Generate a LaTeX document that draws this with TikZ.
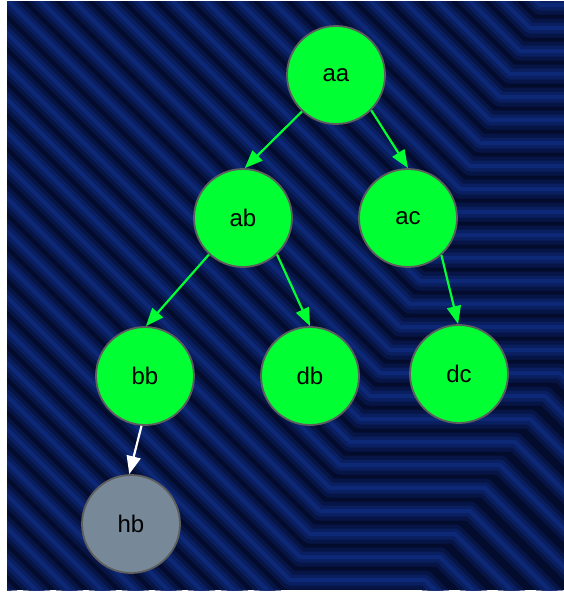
\documentclass[tikz,border=0pt]{standalone}
\usepackage{fontspec}
\newfontfamily\nodefont{Liberation Sans}
\usetikzlibrary{arrows.meta}
\definecolor{bgbase}{HTML}{030C2C}
\definecolor{trwide}{HTML}{0A1E5C}
\definecolor{trhalo}{HTML}{0B2368}
\definecolor{trcore}{HTML}{0E2C82}
\definecolor{nodegreen}{HTML}{00FF33}
\definecolor{nodegrey}{HTML}{778899}
\definecolor{nodeborder}{HTML}{5E5E5E}
\tikzset{
  treenode/.style={circle, draw=nodeborder, line width=1.8pt, fill=nodegreen,
    minimum size=98pt, inner sep=0pt, font=\nodefont\fontsize{24}{28}\selectfont, text=black},
  leafnode/.style={treenode, fill=nodegrey},
  edgegreen/.style={draw=nodegreen, line width=2.2pt, -{Triangle[length=18pt,width=14pt]}},
  edgewhite/.style={draw=white, line width=2.2pt, -{Triangle[length=18pt,width=14pt]}},
  tracewide/.style={draw=trwide, line width=19pt, opacity=0.55, line join=round},
  tracehalo/.style={draw=trhalo, line width=11pt, opacity=0.75, line join=round},
  tracecore/.style={draw=trcore, line width=4pt, opacity=0.7, line join=round},
}
\begin{document}
\begin{tikzpicture}[x=1pt, y=-1pt]
\useasboundingbox (0,0) rectangle (564,592);
\fill[white] (0,0) rectangle (564,592);
\begin{scope}
  \clip (7,1) rectangle (564,590);
  \fill[bgbase] (7,1) rectangle (564,590);
  \foreach \sty in {tracewide,tracehalo,tracecore} {
    \foreach \i in {0,...,34} {
      \pgfmathsetmacro{\yy}{5+23*\i}
      \pgfmathsetmacro{\px}{540-10*\i}
      \pgfmathsetmacro{\qx}{800-15*\i}
      \draw[\sty] (\px-700,\yy-700) -- (\px,\yy) -- (\qx,\yy) -- (\qx+300,\yy+300);
    }
  }
\end{scope}

\node[treenode] (aa) at (336,75) {aa};
\node[treenode] (ab) at (243,218) {ab};
\node[treenode] (ac) at (408,218) {ac};
\node[treenode] (bb) at (145,376) {bb};
\node[treenode] (db) at (310,376) {db};
\node[treenode] (dc) at (459,374) {dc};
\node[leafnode] (hb) at (131,524) {hb};

\draw[edgegreen] (aa.227) -- (ab.88);
\draw[edgegreen] (aa.315) -- (ac.90);
\draw[edgegreen] (ab.227) -- (bb.89);
\draw[edgegreen] (ab.313) -- (db.90);
\draw[edgegreen] (ac.312) -- (dc.91);
\draw[edgewhite] (bb.266) -- (hb.92);
\end{tikzpicture}
\end{document}
